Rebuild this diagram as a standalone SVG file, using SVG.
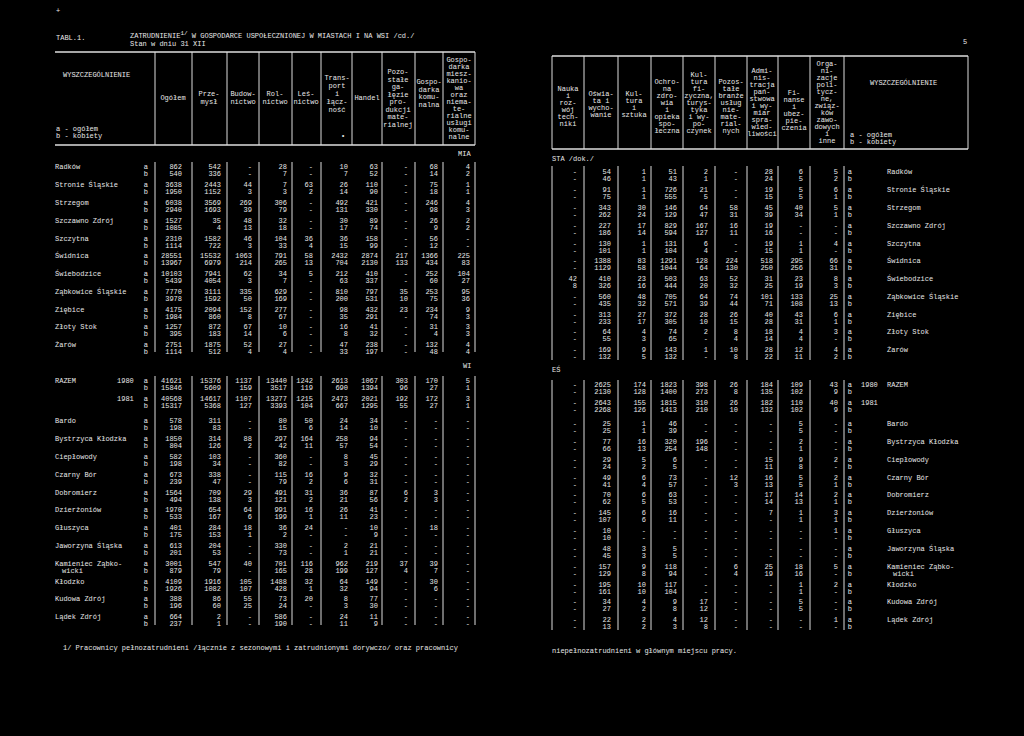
<svg xmlns="http://www.w3.org/2000/svg" width="1024" height="736" viewBox="0 0 1024 736">
<style>
text{font-family:"Liberation Mono","DejaVu Sans Mono",monospace;font-size:7px;fill:#e8e8e8}
.r{text-anchor:end}
.c{text-anchor:middle}
.l{stroke:#ddd;stroke-width:1;fill:none}
.h{stroke:#ddd;stroke-width:1.6;fill:none}
</style>
<rect width="1024" height="736" fill="#000"/>
<g id="titles">
<text x="56" y="13">+</text>
<text x="56" y="40">TABL.1.</text>
<text x="130" y="38">ZATRUDNIENIE<tspan dy="-3" font-size="6">1/</tspan><tspan dy="3"> W GOSPODARCE USPOŁECZNIONEJ W MIASTACH I NA WSI /cd./</tspan></text>
<text x="130" y="46">Stan w dniu 31 XII</text>
<text x="963" y="44">5</text>
<text x="458" y="156">MIA</text>
<text x="463" y="368">WI</text>
<text x="552" y="161">STA /dok./</text>
<text x="552" y="372">EŚ</text>
<text x="63" y="650">1/ Pracownicy pełnozatrudnieni /łącznie z sezonowymi i zatrudnionymi dorywczo/ oraz pracownicy</text>
<text x="552" y="653">niepełnozatrudnieni w głównym miejscu pracy.</text>
</g>
<g id="left-header">
<path class="h" d="M55 52H475M55 145H475"/>
<path class="l" d="M155 52V145M192 52V145M227 52V145M259 52V145M292 52V145M321 52V145M352 52V145M382 52V145M415 52V145M443 52V145M475 52V145"/>
<text x="63" y="77">WYSZCZEGÓLNIENIE</text>
<text x="56" y="131">a - ogółem</text>
<text x="56" y="138">b - kobiety</text>
<text class="c" x="173" y="100">Ogółem</text>
<text class="c" x="209" y="96">Prze-<tspan x="209" dy="8">mysł</tspan></text>
<text class="c" x="243" y="96">Budow-<tspan x="243" dy="8">nictwo</tspan></text>
<text class="c" x="275" y="96">Rol-<tspan x="275" dy="8">nictwo</tspan></text>
<text class="c" x="306" y="96">Leś-<tspan x="306" dy="8">nictwo</tspan></text>
<text class="c" x="337" y="80">Trans-<tspan x="337" dy="8">port</tspan><tspan x="337" dy="8">i</tspan><tspan x="337" dy="8">łącz-</tspan><tspan x="337" dy="8">ność</tspan></text>
<text x="341" y="138">•</text>
<text class="c" x="367" y="100">Handel</text>
<text class="c" x="398" y="74">Pozo-<tspan x="398" dy="7.5">stałe</tspan><tspan x="398" dy="7.5">ga-</tspan><tspan x="398" dy="7.5">łęzie</tspan><tspan x="398" dy="7.5">pro-</tspan><tspan x="398" dy="7.5">dukcji</tspan><tspan x="398" dy="7.5">mate-</tspan><tspan x="398" dy="7.5">rialnej</tspan></text>
<text class="c" x="429" y="84">Gospo-<tspan x="429" dy="7.5">darka</tspan><tspan x="429" dy="7.5">komu-</tspan><tspan x="429" dy="7.5">nalna</tspan></text>
<text class="c" x="459" y="62">Gospo-<tspan x="459" dy="7">darka</tspan><tspan x="459" dy="7">miesz-</tspan><tspan x="459" dy="7">kanio-</tspan><tspan x="459" dy="7">wa</tspan><tspan x="459" dy="7">oraz</tspan><tspan x="459" dy="7">niema-</tspan><tspan x="459" dy="7">te-</tspan><tspan x="459" dy="7">rialne</tspan><tspan x="459" dy="7">usługi</tspan><tspan x="459" dy="7">komu-</tspan><tspan x="459" dy="7">nalne</tspan></text>
</g>
<g id="right-header">
<path class="h" d="M552 56H968M552 149H968"/>
<path class="l" d="M552 56V149M584 56V149M618 56V149M651 56V149M683 56V149M715 56V149M747 56V149M778 56V149M810 56V149M844 56V149M968 56V149"/>
<text class="c" x="568" y="91">Nauka<tspan x="568" dy="7">i</tspan><tspan x="568" dy="7">roz-</tspan><tspan x="568" dy="7">wój</tspan><tspan x="568" dy="7">tech-</tspan><tspan x="568" dy="7">niki</tspan></text>
<text class="c" x="601" y="96">Oświa-<tspan x="601" dy="7">ta i</tspan><tspan x="601" dy="7">wycho-</tspan><tspan x="601" dy="7">wanie</tspan></text>
<text class="c" x="634" y="96">Kul-<tspan x="634" dy="7">tura</tspan><tspan x="634" dy="7">i</tspan><tspan x="634" dy="7">sztuka</tspan></text>
<text class="c" x="667" y="84">Ochro-<tspan x="667" dy="7">na</tspan><tspan x="667" dy="7">zdro-</tspan><tspan x="667" dy="7">wia</tspan><tspan x="667" dy="7">i</tspan><tspan x="667" dy="7">opieka</tspan><tspan x="667" dy="7">spo-</tspan><tspan x="667" dy="7">łeczna</tspan></text>
<text class="c" x="699" y="77">Kul-<tspan x="699" dy="7">tura</tspan><tspan x="699" dy="7">fi-</tspan><tspan x="699" dy="7">zyczna,</tspan><tspan x="699" dy="7">turys-</tspan><tspan x="699" dy="7">tyka</tspan><tspan x="699" dy="7">i wy-</tspan><tspan x="699" dy="7">po-</tspan><tspan x="699" dy="7">czynek</tspan></text>
<text class="c" x="731" y="84">Pozos-<tspan x="731" dy="7">tałe</tspan><tspan x="731" dy="7">branże</tspan><tspan x="731" dy="7">usług</tspan><tspan x="731" dy="7">nie-</tspan><tspan x="731" dy="7">mate-</tspan><tspan x="731" dy="7">rial-</tspan><tspan x="731" dy="7">nych</tspan></text>
<text class="c" x="762" y="73">Admi-<tspan x="762" dy="7">nis-</tspan><tspan x="762" dy="7">tracja</tspan><tspan x="762" dy="7">pań-</tspan><tspan x="762" dy="7">stwowa</tspan><tspan x="762" dy="7">i wy-</tspan><tspan x="762" dy="7">miar</tspan><tspan x="762" dy="7">spra-</tspan><tspan x="762" dy="7">wied-</tspan><tspan x="762" dy="7">liwości</tspan></text>
<text class="c" x="794" y="95">Fi-<tspan x="794" dy="7">nanse</tspan><tspan x="794" dy="7">i</tspan><tspan x="794" dy="7">ubez-</tspan><tspan x="794" dy="7">pie-</tspan><tspan x="794" dy="7">czenia</tspan></text>
<text class="c" x="827" y="66">Orga-<tspan x="827" dy="7">ni-</tspan><tspan x="827" dy="7">zacje</tspan><tspan x="827" dy="7">poli-</tspan><tspan x="827" dy="7">tycz-</tspan><tspan x="827" dy="7">ne,</tspan><tspan x="827" dy="7">związ-</tspan><tspan x="827" dy="7">ków</tspan><tspan x="827" dy="7">zawo-</tspan><tspan x="827" dy="7">dowych</tspan><tspan x="827" dy="7">i</tspan><tspan x="827" dy="7">inne</tspan></text>
<text x="870" y="85">WYSZCZEGÓLNIENIE</text>
<text x="850" y="137">a - ogółem</text>
<text x="850" y="144">b - kobiety</text>
</g>
<g id="connectors">
<path class="l" d="M155 162V352M192 162V352M227 162V352M259 162V352M292 162V352M321 162V352M382 162V352M415 162V352M443 162V352M475 162V352"/>
<path class="l" d="M155 376V625M192 376V625M227 376V625M259 376V625M292 376V625M321 376V625M382 376V625M415 376V625M443 376V625M475 376V625"/>
<path class="l" d="M552 166V360M584 166V360M618 166V360M651 166V360M683 166V360M715 166V360M747 166V360M778 166V360M810 166V360M844 166V360"/>
<path class="l" d="M552 380V630M584 380V630M618 380V630M651 380V630M683 380V630M715 380V630M747 380V630M778 380V630M810 380V630M844 380V630"/>
</g>
<g id="left-names">
<text x="55" y="169">Radków</text><text x="55" y="187">Stronie Śląskie</text><text x="55" y="205">Strzegom</text><text x="55" y="223">Szczawno Zdrój</text><text x="55" y="241">Szczytna</text><text x="55" y="258">Świdnica</text><text x="55" y="276">Świebodzice</text><text x="55" y="294">Ząbkowice Śląskie</text><text x="55" y="312">Ziębice</text><text x="55" y="329">Złoty Stok</text><text x="55" y="347">Żarów</text>
<text x="55" y="383">RAZEM</text><text x="117" y="383">1980</text><text x="117" y="401">1981</text>
<text x="55" y="423">Bardo</text><text x="55" y="441">Bystrzyca Kłodzka</text><text x="55" y="459">Ciepłowody</text><text x="55" y="477">Czarny Bór</text><text x="55" y="495">Dobromierz</text><text x="55" y="512">Dzierżoniów</text><text x="55" y="530">Głuszyca</text><text x="55" y="548">Jaworzyna Śląska</text><text x="55" y="566">Kamieniec Ząbko-</text><text x="62" y="573">wicki</text><text x="55" y="584">Kłodzko</text><text x="55" y="601">Kudowa Zdrój</text><text x="55" y="619">Lądek Zdrój</text>
</g>
<g id="left-data" class="r">
<text y="169"><tspan x="148">a</tspan><tspan x="182">862</tspan><tspan x="221">542</tspan><tspan x="252">-</tspan><tspan x="287">28</tspan><tspan x="313">-</tspan><tspan x="348">10</tspan><tspan x="378">63</tspan><tspan x="408">-</tspan><tspan x="438">68</tspan><tspan x="470">4</tspan></text>
<text y="176"><tspan x="148">b</tspan><tspan x="182">540</tspan><tspan x="221">336</tspan><tspan x="252">-</tspan><tspan x="287">7</tspan><tspan x="313">-</tspan><tspan x="348">7</tspan><tspan x="378">52</tspan><tspan x="408">-</tspan><tspan x="438">14</tspan><tspan x="470">2</tspan></text>
<text y="187"><tspan x="148">a</tspan><tspan x="182">3638</tspan><tspan x="221">2443</tspan><tspan x="252">44</tspan><tspan x="287">7</tspan><tspan x="313">63</tspan><tspan x="348">26</tspan><tspan x="378">110</tspan><tspan x="408">-</tspan><tspan x="438">75</tspan><tspan x="470">1</tspan></text>
<text y="194"><tspan x="148">b</tspan><tspan x="182">1950</tspan><tspan x="221">1152</tspan><tspan x="252">3</tspan><tspan x="287">3</tspan><tspan x="313">2</tspan><tspan x="348">14</tspan><tspan x="378">90</tspan><tspan x="408">-</tspan><tspan x="438">18</tspan><tspan x="470">1</tspan></text>
<text y="205"><tspan x="148">a</tspan><tspan x="182">6038</tspan><tspan x="221">3569</tspan><tspan x="252">269</tspan><tspan x="287">306</tspan><tspan x="313">-</tspan><tspan x="348">492</tspan><tspan x="378">421</tspan><tspan x="408">-</tspan><tspan x="438">246</tspan><tspan x="470">4</tspan></text>
<text y="212"><tspan x="148">b</tspan><tspan x="182">2940</tspan><tspan x="221">1693</tspan><tspan x="252">39</tspan><tspan x="287">79</tspan><tspan x="313">-</tspan><tspan x="348">131</tspan><tspan x="378">330</tspan><tspan x="408">-</tspan><tspan x="438">98</tspan><tspan x="470">3</tspan></text>
<text y="223"><tspan x="148">a</tspan><tspan x="182">1527</tspan><tspan x="221">35</tspan><tspan x="252">48</tspan><tspan x="287">32</tspan><tspan x="313">-</tspan><tspan x="348">30</tspan><tspan x="378">89</tspan><tspan x="408">-</tspan><tspan x="438">26</tspan><tspan x="470">2</tspan></text>
<text y="230"><tspan x="148">b</tspan><tspan x="182">1085</tspan><tspan x="221">4</tspan><tspan x="252">13</tspan><tspan x="287">18</tspan><tspan x="313">-</tspan><tspan x="348">17</tspan><tspan x="378">74</tspan><tspan x="408">-</tspan><tspan x="438">9</tspan><tspan x="470">2</tspan></text>
<text y="241"><tspan x="148">a</tspan><tspan x="182">2310</tspan><tspan x="221">1582</tspan><tspan x="252">46</tspan><tspan x="287">104</tspan><tspan x="313">36</tspan><tspan x="348">36</tspan><tspan x="378">158</tspan><tspan x="408">-</tspan><tspan x="438">56</tspan><tspan x="470">-</tspan></text>
<text y="248"><tspan x="148">b</tspan><tspan x="182">1114</tspan><tspan x="221">722</tspan><tspan x="252">3</tspan><tspan x="287">33</tspan><tspan x="313">4</tspan><tspan x="348">15</tspan><tspan x="378">99</tspan><tspan x="408">-</tspan><tspan x="438">12</tspan><tspan x="470">-</tspan></text>
<text y="258"><tspan x="148">a</tspan><tspan x="182">28551</tspan><tspan x="221">15532</tspan><tspan x="252">1063</tspan><tspan x="287">791</tspan><tspan x="313">58</tspan><tspan x="348">2432</tspan><tspan x="378">2874</tspan><tspan x="408">217</tspan><tspan x="438">1366</tspan><tspan x="470">225</tspan></text>
<text y="265"><tspan x="148">b</tspan><tspan x="182">13967</tspan><tspan x="221">6979</tspan><tspan x="252">214</tspan><tspan x="287">265</tspan><tspan x="313">13</tspan><tspan x="348">704</tspan><tspan x="378">2130</tspan><tspan x="408">133</tspan><tspan x="438">434</tspan><tspan x="470">83</tspan></text>
<text y="276"><tspan x="148">a</tspan><tspan x="182">10103</tspan><tspan x="221">7941</tspan><tspan x="252">62</tspan><tspan x="287">34</tspan><tspan x="313">5</tspan><tspan x="348">212</tspan><tspan x="378">410</tspan><tspan x="408">-</tspan><tspan x="438">252</tspan><tspan x="470">104</tspan></text>
<text y="283"><tspan x="148">b</tspan><tspan x="182">5439</tspan><tspan x="221">4054</tspan><tspan x="252">3</tspan><tspan x="287">7</tspan><tspan x="313">-</tspan><tspan x="348">63</tspan><tspan x="378">337</tspan><tspan x="408">-</tspan><tspan x="438">60</tspan><tspan x="470">27</tspan></text>
<text y="294"><tspan x="148">a</tspan><tspan x="182">7770</tspan><tspan x="221">3111</tspan><tspan x="252">335</tspan><tspan x="287">629</tspan><tspan x="313">-</tspan><tspan x="348">810</tspan><tspan x="378">797</tspan><tspan x="408">35</tspan><tspan x="438">253</tspan><tspan x="470">95</tspan></text>
<text y="301"><tspan x="148">b</tspan><tspan x="182">3978</tspan><tspan x="221">1592</tspan><tspan x="252">50</tspan><tspan x="287">169</tspan><tspan x="313">-</tspan><tspan x="348">200</tspan><tspan x="378">531</tspan><tspan x="408">10</tspan><tspan x="438">75</tspan><tspan x="470">36</tspan></text>
<text y="312"><tspan x="148">a</tspan><tspan x="182">4175</tspan><tspan x="221">2094</tspan><tspan x="252">152</tspan><tspan x="287">277</tspan><tspan x="313">-</tspan><tspan x="348">98</tspan><tspan x="378">432</tspan><tspan x="408">23</tspan><tspan x="438">234</tspan><tspan x="470">9</tspan></text>
<text y="319"><tspan x="148">b</tspan><tspan x="182">1984</tspan><tspan x="221">860</tspan><tspan x="252">8</tspan><tspan x="287">67</tspan><tspan x="313">-</tspan><tspan x="348">35</tspan><tspan x="378">291</tspan><tspan x="408">-</tspan><tspan x="438">74</tspan><tspan x="470">3</tspan></text>
<text y="329"><tspan x="148">a</tspan><tspan x="182">1257</tspan><tspan x="221">872</tspan><tspan x="252">67</tspan><tspan x="287">10</tspan><tspan x="313">-</tspan><tspan x="348">16</tspan><tspan x="378">41</tspan><tspan x="408">-</tspan><tspan x="438">31</tspan><tspan x="470">3</tspan></text>
<text y="336"><tspan x="148">b</tspan><tspan x="182">395</tspan><tspan x="221">183</tspan><tspan x="252">14</tspan><tspan x="287">6</tspan><tspan x="313">-</tspan><tspan x="348">8</tspan><tspan x="378">32</tspan><tspan x="408">-</tspan><tspan x="438">4</tspan><tspan x="470">3</tspan></text>
<text y="347"><tspan x="148">a</tspan><tspan x="182">2751</tspan><tspan x="221">1875</tspan><tspan x="252">52</tspan><tspan x="287">27</tspan><tspan x="313">-</tspan><tspan x="348">47</tspan><tspan x="378">238</tspan><tspan x="408">-</tspan><tspan x="438">132</tspan><tspan x="470">4</tspan></text>
<text y="354"><tspan x="148">b</tspan><tspan x="182">1114</tspan><tspan x="221">512</tspan><tspan x="252">4</tspan><tspan x="287">4</tspan><tspan x="313">-</tspan><tspan x="348">33</tspan><tspan x="378">197</tspan><tspan x="408">-</tspan><tspan x="438">48</tspan><tspan x="470">4</tspan></text>
<text y="383"><tspan x="148">a</tspan><tspan x="182">41621</tspan><tspan x="221">15376</tspan><tspan x="252">1137</tspan><tspan x="287">13440</tspan><tspan x="313">1242</tspan><tspan x="348">2613</tspan><tspan x="378">1067</tspan><tspan x="408">303</tspan><tspan x="438">170</tspan><tspan x="470">5</tspan></text>
<text y="390"><tspan x="148">b</tspan><tspan x="182">15846</tspan><tspan x="221">5609</tspan><tspan x="252">159</tspan><tspan x="287">3517</tspan><tspan x="313">119</tspan><tspan x="348">690</tspan><tspan x="378">1394</tspan><tspan x="408">96</tspan><tspan x="438">27</tspan><tspan x="470">1</tspan></text>
<text y="401"><tspan x="148">a</tspan><tspan x="182">40568</tspan><tspan x="221">14617</tspan><tspan x="252">1107</tspan><tspan x="287">13277</tspan><tspan x="313">1215</tspan><tspan x="348">2473</tspan><tspan x="378">2021</tspan><tspan x="408">192</tspan><tspan x="438">172</tspan><tspan x="470">3</tspan></text>
<text y="408"><tspan x="148">b</tspan><tspan x="182">15317</tspan><tspan x="221">5368</tspan><tspan x="252">127</tspan><tspan x="287">3393</tspan><tspan x="313">104</tspan><tspan x="348">667</tspan><tspan x="378">1295</tspan><tspan x="408">55</tspan><tspan x="438">27</tspan><tspan x="470">1</tspan></text>
<text y="423"><tspan x="148">a</tspan><tspan x="182">578</tspan><tspan x="221">311</tspan><tspan x="252">-</tspan><tspan x="287">80</tspan><tspan x="313">50</tspan><tspan x="348">24</tspan><tspan x="378">34</tspan><tspan x="408">-</tspan><tspan x="438">-</tspan><tspan x="470">-</tspan></text>
<text y="430"><tspan x="148">b</tspan><tspan x="182">198</tspan><tspan x="221">83</tspan><tspan x="252">-</tspan><tspan x="287">15</tspan><tspan x="313">6</tspan><tspan x="348">14</tspan><tspan x="378">10</tspan><tspan x="408">-</tspan><tspan x="438">-</tspan><tspan x="470">-</tspan></text>
<text y="441"><tspan x="148">a</tspan><tspan x="182">1850</tspan><tspan x="221">314</tspan><tspan x="252">88</tspan><tspan x="287">297</tspan><tspan x="313">164</tspan><tspan x="348">258</tspan><tspan x="378">94</tspan><tspan x="408">-</tspan><tspan x="438">-</tspan><tspan x="470">-</tspan></text>
<text y="448"><tspan x="148">b</tspan><tspan x="182">804</tspan><tspan x="221">126</tspan><tspan x="252">2</tspan><tspan x="287">42</tspan><tspan x="313">11</tspan><tspan x="348">57</tspan><tspan x="378">54</tspan><tspan x="408">-</tspan><tspan x="438">-</tspan><tspan x="470">-</tspan></text>
<text y="459"><tspan x="148">a</tspan><tspan x="182">582</tspan><tspan x="221">103</tspan><tspan x="252">-</tspan><tspan x="287">360</tspan><tspan x="313">-</tspan><tspan x="348">8</tspan><tspan x="378">45</tspan><tspan x="408">-</tspan><tspan x="438">-</tspan><tspan x="470">-</tspan></text>
<text y="466"><tspan x="148">b</tspan><tspan x="182">198</tspan><tspan x="221">34</tspan><tspan x="252">-</tspan><tspan x="287">82</tspan><tspan x="313">-</tspan><tspan x="348">3</tspan><tspan x="378">29</tspan><tspan x="408">-</tspan><tspan x="438">-</tspan><tspan x="470">-</tspan></text>
<text y="477"><tspan x="148">a</tspan><tspan x="182">673</tspan><tspan x="221">338</tspan><tspan x="252">-</tspan><tspan x="287">115</tspan><tspan x="313">16</tspan><tspan x="348">9</tspan><tspan x="378">32</tspan><tspan x="408">-</tspan><tspan x="438">-</tspan><tspan x="470">-</tspan></text>
<text y="484"><tspan x="148">b</tspan><tspan x="182">239</tspan><tspan x="221">47</tspan><tspan x="252">-</tspan><tspan x="287">79</tspan><tspan x="313">2</tspan><tspan x="348">6</tspan><tspan x="378">31</tspan><tspan x="408">-</tspan><tspan x="438">-</tspan><tspan x="470">-</tspan></text>
<text y="495"><tspan x="148">a</tspan><tspan x="182">1564</tspan><tspan x="221">709</tspan><tspan x="252">29</tspan><tspan x="287">491</tspan><tspan x="313">31</tspan><tspan x="348">36</tspan><tspan x="378">87</tspan><tspan x="408">6</tspan><tspan x="438">3</tspan><tspan x="470">-</tspan></text>
<text y="502"><tspan x="148">b</tspan><tspan x="182">494</tspan><tspan x="221">138</tspan><tspan x="252">3</tspan><tspan x="287">121</tspan><tspan x="313">2</tspan><tspan x="348">21</tspan><tspan x="378">56</tspan><tspan x="408">2</tspan><tspan x="438">3</tspan><tspan x="470">-</tspan></text>
<text y="512"><tspan x="148">a</tspan><tspan x="182">1970</tspan><tspan x="221">654</tspan><tspan x="252">64</tspan><tspan x="287">991</tspan><tspan x="313">16</tspan><tspan x="348">26</tspan><tspan x="378">41</tspan><tspan x="408">-</tspan><tspan x="438">-</tspan><tspan x="470">-</tspan></text>
<text y="519"><tspan x="148">b</tspan><tspan x="182">533</tspan><tspan x="221">167</tspan><tspan x="252">6</tspan><tspan x="287">199</tspan><tspan x="313">1</tspan><tspan x="348">11</tspan><tspan x="378">23</tspan><tspan x="408">-</tspan><tspan x="438">-</tspan><tspan x="470">-</tspan></text>
<text y="530"><tspan x="148">a</tspan><tspan x="182">401</tspan><tspan x="221">284</tspan><tspan x="252">18</tspan><tspan x="287">36</tspan><tspan x="313">24</tspan><tspan x="348">-</tspan><tspan x="378">10</tspan><tspan x="408">-</tspan><tspan x="438">18</tspan><tspan x="470">-</tspan></text>
<text y="537"><tspan x="148">b</tspan><tspan x="182">175</tspan><tspan x="221">153</tspan><tspan x="252">1</tspan><tspan x="287">2</tspan><tspan x="313">-</tspan><tspan x="348">-</tspan><tspan x="378">9</tspan><tspan x="408">-</tspan><tspan x="438">-</tspan><tspan x="470">-</tspan></text>
<text y="548"><tspan x="148">a</tspan><tspan x="182">613</tspan><tspan x="221">204</tspan><tspan x="252">-</tspan><tspan x="287">330</tspan><tspan x="313">-</tspan><tspan x="348">2</tspan><tspan x="378">21</tspan><tspan x="408">-</tspan><tspan x="438">-</tspan><tspan x="470">-</tspan></text>
<text y="555"><tspan x="148">b</tspan><tspan x="182">201</tspan><tspan x="221">53</tspan><tspan x="252">-</tspan><tspan x="287">73</tspan><tspan x="313">-</tspan><tspan x="348">1</tspan><tspan x="378">21</tspan><tspan x="408">-</tspan><tspan x="438">-</tspan><tspan x="470">-</tspan></text>
<text y="566"><tspan x="148">a</tspan><tspan x="182">3001</tspan><tspan x="221">547</tspan><tspan x="252">40</tspan><tspan x="287">701</tspan><tspan x="313">116</tspan><tspan x="348">962</tspan><tspan x="378">219</tspan><tspan x="408">37</tspan><tspan x="438">39</tspan><tspan x="470">-</tspan></text>
<text y="573"><tspan x="148">b</tspan><tspan x="182">879</tspan><tspan x="221">79</tspan><tspan x="252">-</tspan><tspan x="287">165</tspan><tspan x="313">28</tspan><tspan x="348">199</tspan><tspan x="378">127</tspan><tspan x="408">4</tspan><tspan x="438">7</tspan><tspan x="470">-</tspan></text>
<text y="584"><tspan x="148">a</tspan><tspan x="182">4109</tspan><tspan x="221">1916</tspan><tspan x="252">105</tspan><tspan x="287">1488</tspan><tspan x="313">32</tspan><tspan x="348">64</tspan><tspan x="378">149</tspan><tspan x="408">-</tspan><tspan x="438">30</tspan><tspan x="470">-</tspan></text>
<text y="591"><tspan x="148">b</tspan><tspan x="182">1926</tspan><tspan x="221">1082</tspan><tspan x="252">107</tspan><tspan x="287">428</tspan><tspan x="313">1</tspan><tspan x="348">32</tspan><tspan x="378">94</tspan><tspan x="408">-</tspan><tspan x="438">6</tspan><tspan x="470">-</tspan></text>
<text y="601"><tspan x="148">a</tspan><tspan x="182">388</tspan><tspan x="221">86</tspan><tspan x="252">55</tspan><tspan x="287">73</tspan><tspan x="313">20</tspan><tspan x="348">8</tspan><tspan x="378">77</tspan><tspan x="408">-</tspan><tspan x="438">-</tspan><tspan x="470">-</tspan></text>
<text y="608"><tspan x="148">b</tspan><tspan x="182">196</tspan><tspan x="221">60</tspan><tspan x="252">25</tspan><tspan x="287">24</tspan><tspan x="313">-</tspan><tspan x="348">3</tspan><tspan x="378">30</tspan><tspan x="408">-</tspan><tspan x="438">-</tspan><tspan x="470">-</tspan></text>
<text y="619"><tspan x="148">a</tspan><tspan x="182">664</tspan><tspan x="221">2</tspan><tspan x="252">-</tspan><tspan x="287">586</tspan><tspan x="313">-</tspan><tspan x="348">24</tspan><tspan x="378">11</tspan><tspan x="408">-</tspan><tspan x="438">-</tspan><tspan x="470">-</tspan></text>
<text y="626"><tspan x="148">b</tspan><tspan x="182">237</tspan><tspan x="221">1</tspan><tspan x="252">-</tspan><tspan x="287">190</tspan><tspan x="313">-</tspan><tspan x="348">11</tspan><tspan x="378">9</tspan><tspan x="408">-</tspan><tspan x="438">-</tspan><tspan x="470">-</tspan></text>
</g>
<g id="right-names">
<text x="887" y="174">Radków</text><text x="887" y="192">Stronie Śląskie</text><text x="887" y="210">Strzegom</text><text x="887" y="228">Szczawno Zdrój</text><text x="887" y="246">Szczytna</text><text x="887" y="263">Świdnica</text><text x="887" y="281">Świebodzice</text><text x="887" y="299">Ząbkowice Śląskie</text><text x="887" y="317">Ziębice</text><text x="887" y="334">Złoty Stok</text><text x="887" y="352">Żarów</text>
<text x="887" y="387">RAZEM</text><text x="861" y="387">1980</text><text x="861" y="405">1981</text>
<text x="887" y="426">Bardo</text><text x="887" y="444">Bystrzyca Kłodzka</text><text x="887" y="462">Ciepłowody</text><text x="887" y="480">Czarny Bór</text><text x="887" y="497">Dobromierz</text><text x="887" y="515">Dzierżoniów</text><text x="887" y="533">Głuszyca</text><text x="887" y="551">Jaworzyna Śląska</text><text x="887" y="569">Kamieniec Ząbko-</text><text x="893" y="576">wicki</text><text x="887" y="587">Kłodzko</text><text x="887" y="604">Kudowa Zdrój</text><text x="887" y="622">Lądek Zdrój</text>
</g>
<g id="right-data" class="r">
<text y="174"><tspan x="577">-</tspan><tspan x="611">54</tspan><tspan x="646">1</tspan><tspan x="677">51</tspan><tspan x="708">2</tspan><tspan x="738">-</tspan><tspan x="773">28</tspan><tspan x="803">6</tspan><tspan x="838">5</tspan><tspan x="852">a</tspan></text>
<text y="181"><tspan x="577">-</tspan><tspan x="611">46</tspan><tspan x="646">1</tspan><tspan x="677">43</tspan><tspan x="708">1</tspan><tspan x="738">-</tspan><tspan x="773">24</tspan><tspan x="803">5</tspan><tspan x="838">2</tspan><tspan x="852">b</tspan></text>
<text y="192"><tspan x="577">-</tspan><tspan x="611">91</tspan><tspan x="646">1</tspan><tspan x="677">726</tspan><tspan x="708">21</tspan><tspan x="738">-</tspan><tspan x="773">19</tspan><tspan x="803">5</tspan><tspan x="838">6</tspan><tspan x="852">a</tspan></text>
<text y="199"><tspan x="577">-</tspan><tspan x="611">75</tspan><tspan x="646">1</tspan><tspan x="677">555</tspan><tspan x="708">5</tspan><tspan x="738">-</tspan><tspan x="773">15</tspan><tspan x="803">5</tspan><tspan x="838">1</tspan><tspan x="852">b</tspan></text>
<text y="210"><tspan x="577">-</tspan><tspan x="611">343</tspan><tspan x="646">30</tspan><tspan x="677">146</tspan><tspan x="708">64</tspan><tspan x="738">58</tspan><tspan x="773">45</tspan><tspan x="803">40</tspan><tspan x="838">5</tspan><tspan x="852">a</tspan></text>
<text y="217"><tspan x="577">-</tspan><tspan x="611">262</tspan><tspan x="646">24</tspan><tspan x="677">129</tspan><tspan x="708">47</tspan><tspan x="738">31</tspan><tspan x="773">39</tspan><tspan x="803">34</tspan><tspan x="838">1</tspan><tspan x="852">b</tspan></text>
<text y="228"><tspan x="577">-</tspan><tspan x="611">227</tspan><tspan x="646">17</tspan><tspan x="677">829</tspan><tspan x="708">167</tspan><tspan x="738">16</tspan><tspan x="773">19</tspan><tspan x="803">-</tspan><tspan x="838">-</tspan><tspan x="852">a</tspan></text>
<text y="235"><tspan x="577">-</tspan><tspan x="611">186</tspan><tspan x="646">14</tspan><tspan x="677">594</tspan><tspan x="708">127</tspan><tspan x="738">11</tspan><tspan x="773">16</tspan><tspan x="803">-</tspan><tspan x="838">-</tspan><tspan x="852">b</tspan></text>
<text y="246"><tspan x="577">-</tspan><tspan x="611">130</tspan><tspan x="646">1</tspan><tspan x="677">131</tspan><tspan x="708">6</tspan><tspan x="738">-</tspan><tspan x="773">19</tspan><tspan x="803">1</tspan><tspan x="838">4</tspan><tspan x="852">a</tspan></text>
<text y="253"><tspan x="577">-</tspan><tspan x="611">101</tspan><tspan x="646">1</tspan><tspan x="677">104</tspan><tspan x="708">4</tspan><tspan x="738">-</tspan><tspan x="773">15</tspan><tspan x="803">1</tspan><tspan x="838">-</tspan><tspan x="852">b</tspan></text>
<text y="263"><tspan x="577">-</tspan><tspan x="611">1388</tspan><tspan x="646">83</tspan><tspan x="677">1291</tspan><tspan x="708">128</tspan><tspan x="738">224</tspan><tspan x="773">518</tspan><tspan x="803">295</tspan><tspan x="838">66</tspan><tspan x="852">a</tspan></text>
<text y="270"><tspan x="577">-</tspan><tspan x="611">1129</tspan><tspan x="646">58</tspan><tspan x="677">1044</tspan><tspan x="708">64</tspan><tspan x="738">130</tspan><tspan x="773">250</tspan><tspan x="803">256</tspan><tspan x="838">31</tspan><tspan x="852">b</tspan></text>
<text y="281"><tspan x="577">42</tspan><tspan x="611">410</tspan><tspan x="646">23</tspan><tspan x="677">503</tspan><tspan x="708">63</tspan><tspan x="738">52</tspan><tspan x="773">31</tspan><tspan x="803">23</tspan><tspan x="838">8</tspan><tspan x="852">a</tspan></text>
<text y="288"><tspan x="577">8</tspan><tspan x="611">326</tspan><tspan x="646">16</tspan><tspan x="677">444</tspan><tspan x="708">20</tspan><tspan x="738">32</tspan><tspan x="773">25</tspan><tspan x="803">19</tspan><tspan x="838">3</tspan><tspan x="852">b</tspan></text>
<text y="299"><tspan x="577">-</tspan><tspan x="611">560</tspan><tspan x="646">48</tspan><tspan x="677">705</tspan><tspan x="708">64</tspan><tspan x="738">74</tspan><tspan x="773">101</tspan><tspan x="803">133</tspan><tspan x="838">25</tspan><tspan x="852">a</tspan></text>
<text y="306"><tspan x="577">-</tspan><tspan x="611">435</tspan><tspan x="646">32</tspan><tspan x="677">571</tspan><tspan x="708">39</tspan><tspan x="738">44</tspan><tspan x="773">71</tspan><tspan x="803">108</tspan><tspan x="838">13</tspan><tspan x="852">b</tspan></text>
<text y="317"><tspan x="577">-</tspan><tspan x="611">313</tspan><tspan x="646">27</tspan><tspan x="677">372</tspan><tspan x="708">28</tspan><tspan x="738">26</tspan><tspan x="773">40</tspan><tspan x="803">43</tspan><tspan x="838">6</tspan><tspan x="852">a</tspan></text>
<text y="324"><tspan x="577">-</tspan><tspan x="611">233</tspan><tspan x="646">17</tspan><tspan x="677">305</tspan><tspan x="708">10</tspan><tspan x="738">15</tspan><tspan x="773">28</tspan><tspan x="803">31</tspan><tspan x="838">1</tspan><tspan x="852">b</tspan></text>
<text y="334"><tspan x="577">-</tspan><tspan x="611">64</tspan><tspan x="646">4</tspan><tspan x="677">74</tspan><tspan x="708">2</tspan><tspan x="738">8</tspan><tspan x="773">18</tspan><tspan x="803">4</tspan><tspan x="838">3</tspan><tspan x="852">a</tspan></text>
<text y="341"><tspan x="577">-</tspan><tspan x="611">55</tspan><tspan x="646">3</tspan><tspan x="677">65</tspan><tspan x="708">-</tspan><tspan x="738">4</tspan><tspan x="773">14</tspan><tspan x="803">4</tspan><tspan x="838">-</tspan><tspan x="852">b</tspan></text>
<text y="352"><tspan x="577">-</tspan><tspan x="611">169</tspan><tspan x="646">9</tspan><tspan x="677">143</tspan><tspan x="708">1</tspan><tspan x="738">10</tspan><tspan x="773">28</tspan><tspan x="803">12</tspan><tspan x="838">4</tspan><tspan x="852">a</tspan></text>
<text y="359"><tspan x="577">-</tspan><tspan x="611">132</tspan><tspan x="646">5</tspan><tspan x="677">132</tspan><tspan x="708">-</tspan><tspan x="738">8</tspan><tspan x="773">22</tspan><tspan x="803">11</tspan><tspan x="838">2</tspan><tspan x="852">b</tspan></text>
<text y="387"><tspan x="577">-</tspan><tspan x="611">2625</tspan><tspan x="646">174</tspan><tspan x="677">1823</tspan><tspan x="708">398</tspan><tspan x="738">26</tspan><tspan x="773">184</tspan><tspan x="803">109</tspan><tspan x="838">43</tspan><tspan x="852">a</tspan></text>
<text y="394"><tspan x="577">-</tspan><tspan x="611">2130</tspan><tspan x="646">128</tspan><tspan x="677">1400</tspan><tspan x="708">273</tspan><tspan x="738">8</tspan><tspan x="773">135</tspan><tspan x="803">102</tspan><tspan x="838">9</tspan><tspan x="852">b</tspan></text>
<text y="405"><tspan x="577">-</tspan><tspan x="611">2643</tspan><tspan x="646">155</tspan><tspan x="677">1815</tspan><tspan x="708">310</tspan><tspan x="738">26</tspan><tspan x="773">182</tspan><tspan x="803">110</tspan><tspan x="838">40</tspan><tspan x="852">a</tspan></text>
<text y="412"><tspan x="577">-</tspan><tspan x="611">2268</tspan><tspan x="646">126</tspan><tspan x="677">1413</tspan><tspan x="708">210</tspan><tspan x="738">10</tspan><tspan x="773">132</tspan><tspan x="803">102</tspan><tspan x="838">9</tspan><tspan x="852">b</tspan></text>
<text y="426"><tspan x="577">-</tspan><tspan x="611">25</tspan><tspan x="646">1</tspan><tspan x="677">46</tspan><tspan x="708">-</tspan><tspan x="738">-</tspan><tspan x="773">-</tspan><tspan x="803">5</tspan><tspan x="838">-</tspan><tspan x="852">a</tspan></text>
<text y="433"><tspan x="577">-</tspan><tspan x="611">25</tspan><tspan x="646">1</tspan><tspan x="677">39</tspan><tspan x="708">-</tspan><tspan x="738">-</tspan><tspan x="773">-</tspan><tspan x="803">5</tspan><tspan x="838">-</tspan><tspan x="852">b</tspan></text>
<text y="444"><tspan x="577">-</tspan><tspan x="611">77</tspan><tspan x="646">16</tspan><tspan x="677">320</tspan><tspan x="708">196</tspan><tspan x="738">-</tspan><tspan x="773">-</tspan><tspan x="803">2</tspan><tspan x="838">-</tspan><tspan x="852">a</tspan></text>
<text y="451"><tspan x="577">-</tspan><tspan x="611">66</tspan><tspan x="646">13</tspan><tspan x="677">254</tspan><tspan x="708">148</tspan><tspan x="738">-</tspan><tspan x="773">-</tspan><tspan x="803">1</tspan><tspan x="838">-</tspan><tspan x="852">b</tspan></text>
<text y="462"><tspan x="577">-</tspan><tspan x="611">29</tspan><tspan x="646">5</tspan><tspan x="677">6</tspan><tspan x="708">-</tspan><tspan x="738">-</tspan><tspan x="773">15</tspan><tspan x="803">9</tspan><tspan x="838">2</tspan><tspan x="852">a</tspan></text>
<text y="469"><tspan x="577">-</tspan><tspan x="611">24</tspan><tspan x="646">2</tspan><tspan x="677">5</tspan><tspan x="708">-</tspan><tspan x="738">-</tspan><tspan x="773">11</tspan><tspan x="803">8</tspan><tspan x="838">-</tspan><tspan x="852">b</tspan></text>
<text y="480"><tspan x="577">-</tspan><tspan x="611">49</tspan><tspan x="646">6</tspan><tspan x="677">73</tspan><tspan x="708">-</tspan><tspan x="738">12</tspan><tspan x="773">16</tspan><tspan x="803">5</tspan><tspan x="838">2</tspan><tspan x="852">a</tspan></text>
<text y="487"><tspan x="577">-</tspan><tspan x="611">41</tspan><tspan x="646">4</tspan><tspan x="677">57</tspan><tspan x="708">-</tspan><tspan x="738">3</tspan><tspan x="773">13</tspan><tspan x="803">5</tspan><tspan x="838">1</tspan><tspan x="852">b</tspan></text>
<text y="497"><tspan x="577">-</tspan><tspan x="611">70</tspan><tspan x="646">6</tspan><tspan x="677">63</tspan><tspan x="708">-</tspan><tspan x="738">-</tspan><tspan x="773">17</tspan><tspan x="803">14</tspan><tspan x="838">2</tspan><tspan x="852">a</tspan></text>
<text y="504"><tspan x="577">-</tspan><tspan x="611">62</tspan><tspan x="646">5</tspan><tspan x="677">53</tspan><tspan x="708">-</tspan><tspan x="738">-</tspan><tspan x="773">14</tspan><tspan x="803">13</tspan><tspan x="838">1</tspan><tspan x="852">b</tspan></text>
<text y="515"><tspan x="577">-</tspan><tspan x="611">145</tspan><tspan x="646">6</tspan><tspan x="677">16</tspan><tspan x="708">-</tspan><tspan x="738">-</tspan><tspan x="773">7</tspan><tspan x="803">1</tspan><tspan x="838">3</tspan><tspan x="852">a</tspan></text>
<text y="522"><tspan x="577">-</tspan><tspan x="611">107</tspan><tspan x="646">6</tspan><tspan x="677">11</tspan><tspan x="708">-</tspan><tspan x="738">-</tspan><tspan x="773">-</tspan><tspan x="803">1</tspan><tspan x="838">1</tspan><tspan x="852">b</tspan></text>
<text y="533"><tspan x="577">-</tspan><tspan x="611">10</tspan><tspan x="646">-</tspan><tspan x="677">-</tspan><tspan x="708">-</tspan><tspan x="738">-</tspan><tspan x="773">-</tspan><tspan x="803">-</tspan><tspan x="838">1</tspan><tspan x="852">a</tspan></text>
<text y="540"><tspan x="577">-</tspan><tspan x="611">10</tspan><tspan x="646">-</tspan><tspan x="677">-</tspan><tspan x="708">-</tspan><tspan x="738">-</tspan><tspan x="773">-</tspan><tspan x="803">-</tspan><tspan x="838">-</tspan><tspan x="852">b</tspan></text>
<text y="551"><tspan x="577">-</tspan><tspan x="611">48</tspan><tspan x="646">3</tspan><tspan x="677">5</tspan><tspan x="708">-</tspan><tspan x="738">-</tspan><tspan x="773">-</tspan><tspan x="803">-</tspan><tspan x="838">-</tspan><tspan x="852">a</tspan></text>
<text y="558"><tspan x="577">-</tspan><tspan x="611">45</tspan><tspan x="646">3</tspan><tspan x="677">5</tspan><tspan x="708">-</tspan><tspan x="738">-</tspan><tspan x="773">-</tspan><tspan x="803">-</tspan><tspan x="838">-</tspan><tspan x="852">b</tspan></text>
<text y="569"><tspan x="577">-</tspan><tspan x="611">157</tspan><tspan x="646">9</tspan><tspan x="677">118</tspan><tspan x="708">-</tspan><tspan x="738">6</tspan><tspan x="773">25</tspan><tspan x="803">18</tspan><tspan x="838">5</tspan><tspan x="852">a</tspan></text>
<text y="576"><tspan x="577">-</tspan><tspan x="611">129</tspan><tspan x="646">8</tspan><tspan x="677">94</tspan><tspan x="708">-</tspan><tspan x="738">4</tspan><tspan x="773">19</tspan><tspan x="803">16</tspan><tspan x="838">-</tspan><tspan x="852">b</tspan></text>
<text y="587"><tspan x="577">-</tspan><tspan x="611">195</tspan><tspan x="646">10</tspan><tspan x="677">117</tspan><tspan x="708">-</tspan><tspan x="738">-</tspan><tspan x="773">-</tspan><tspan x="803">1</tspan><tspan x="838">2</tspan><tspan x="852">a</tspan></text>
<text y="594"><tspan x="577">-</tspan><tspan x="611">161</tspan><tspan x="646">10</tspan><tspan x="677">104</tspan><tspan x="708">-</tspan><tspan x="738">-</tspan><tspan x="773">-</tspan><tspan x="803">1</tspan><tspan x="838">-</tspan><tspan x="852">b</tspan></text>
<text y="604"><tspan x="577">-</tspan><tspan x="611">34</tspan><tspan x="646">4</tspan><tspan x="677">9</tspan><tspan x="708">17</tspan><tspan x="738">-</tspan><tspan x="773">-</tspan><tspan x="803">5</tspan><tspan x="838">-</tspan><tspan x="852">a</tspan></text>
<text y="611"><tspan x="577">-</tspan><tspan x="611">27</tspan><tspan x="646">2</tspan><tspan x="677">8</tspan><tspan x="708">12</tspan><tspan x="738">-</tspan><tspan x="773">-</tspan><tspan x="803">5</tspan><tspan x="838">-</tspan><tspan x="852">b</tspan></text>
<text y="622"><tspan x="577">-</tspan><tspan x="611">22</tspan><tspan x="646">2</tspan><tspan x="677">4</tspan><tspan x="708">12</tspan><tspan x="738">-</tspan><tspan x="773">-</tspan><tspan x="803">-</tspan><tspan x="838">1</tspan><tspan x="852">a</tspan></text>
<text y="629"><tspan x="577">-</tspan><tspan x="611">13</tspan><tspan x="646">2</tspan><tspan x="677">3</tspan><tspan x="708">8</tspan><tspan x="738">-</tspan><tspan x="773">-</tspan><tspan x="803">-</tspan><tspan x="838">-</tspan><tspan x="852">b</tspan></text>
</g>
</svg>
